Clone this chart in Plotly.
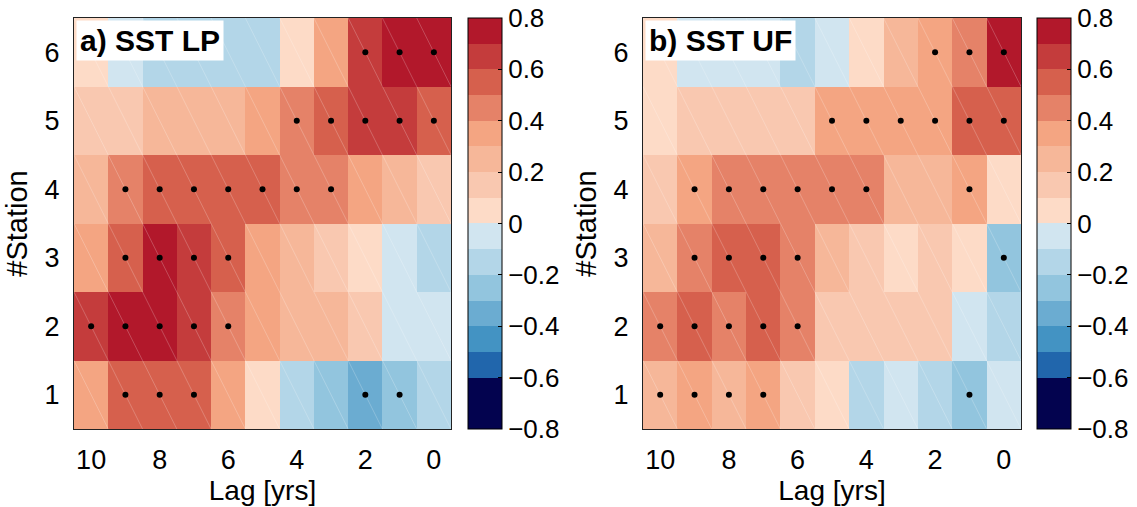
import plotly.graph_objects as go

lags = [10, 9, 8, 7, 6, 5, 4, 3, 2, 1, 0]
stations = [1, 2, 3, 4, 5, 6]

# Panel a) SST LP  (rows: station 1..6, columns: lag 10..0)
corr_lp = [
    [0.35, 0.55, 0.55, 0.55, 0.35, 0.05, -0.15, -0.25, -0.35, -0.25, -0.15],
    [0.65, 0.75, 0.75, 0.65, 0.45, 0.35, 0.25, 0.25, 0.15, -0.05, -0.05],
    [0.35, 0.55, 0.75, 0.65, 0.55, 0.35, 0.25, 0.15, 0.05, -0.05, -0.15],
    [0.25, 0.45, 0.55, 0.55, 0.55, 0.55, 0.45, 0.45, 0.35, 0.25, 0.15],
    [0.15, 0.15, 0.25, 0.25, 0.25, 0.35, 0.45, 0.55, 0.65, 0.65, 0.55],
    [0.05, -0.05, -0.15, -0.15, -0.15, -0.15, 0.05, 0.35, 0.65, 0.75, 0.75],
]
sig_lp = [
    [0, 1, 1, 1, 0, 0, 0, 0, 1, 1, 0],
    [1, 1, 1, 1, 1, 0, 0, 0, 0, 0, 0],
    [0, 1, 1, 1, 1, 0, 0, 0, 0, 0, 0],
    [0, 1, 1, 1, 1, 1, 1, 1, 0, 0, 0],
    [0, 0, 0, 0, 0, 0, 1, 1, 1, 1, 1],
    [0, 0, 0, 0, 0, 0, 0, 0, 1, 1, 1],
]

# Panel b) SST UF
corr_uf = [
    [0.25, 0.35, 0.25, 0.35, 0.15, 0.05, -0.15, -0.05, -0.15, -0.25, -0.05],
    [0.45, 0.55, 0.45, 0.55, 0.45, 0.15, 0.15, 0.15, 0.15, -0.05, -0.15],
    [0.25, 0.45, 0.55, 0.55, 0.45, 0.25, 0.15, 0.05, 0.15, 0.05, -0.25],
    [0.15, 0.35, 0.45, 0.45, 0.45, 0.45, 0.45, 0.25, 0.25, 0.35, 0.05],
    [0.05, 0.15, 0.15, 0.15, 0.15, 0.35, 0.35, 0.35, 0.35, 0.55, 0.55],
    [0.05, -0.05, -0.05, -0.05, -0.15, -0.05, 0.05, 0.25, 0.35, 0.45, 0.75],
]
sig_uf = [
    [1, 1, 1, 1, 0, 0, 0, 0, 0, 1, 0],
    [1, 1, 1, 1, 1, 0, 0, 0, 0, 0, 0],
    [0, 1, 1, 1, 1, 0, 0, 0, 0, 0, 1],
    [0, 1, 1, 1, 1, 1, 1, 0, 0, 1, 0],
    [0, 0, 0, 0, 0, 1, 1, 1, 1, 1, 1],
    [0, 0, 0, 0, 0, 0, 0, 0, 1, 1, 1],
]

panel_titles = ["a) SST LP", "b) SST UF"]
cbar_ticks = [-0.8, -0.6, -0.4, -0.2, 0, 0.2, 0.4, 0.6, 0.8]
x_ticks = [10, 8, 6, 4, 2, 0]

level_colors = [
    "#03034f", "#03034f", "#2166ac", "#4393c3", "#6bacd1", "#92c5de",
    "#b3d6e8", "#d1e5f0", "#fddbc7", "#f9c8b0", "#f6b799", "#f4a582",
    "#e58268", "#d6604d", "#c43c3c", "#b2182b",
]
n = len(level_colors)
colorscale = []
for i, c in enumerate(level_colors):
    colorscale.append([i / n, c])
    colorscale.append([(i + 1) / n, c])

W, H = 1137, 507
FONT = "Liberation Sans, Arial, Helvetica, sans-serif"

plot_x = [(74, 451), (643, 1021)]
plot_y = (18, 429)
cbar_x = [468, 1037]

fig = go.Figure()

datasets = [(corr_lp, sig_lp), (corr_uf, sig_uf)]
for k, (z, sig) in enumerate(datasets):
    xa = "x" if k == 0 else "x2"
    ya = "y" if k == 0 else "y2"
    fig.add_trace(go.Heatmap(
        z=z, x=lags, y=stations, zmin=-0.8, zmax=0.8,
        colorscale=colorscale, xaxis=xa, yaxis=ya, hoverinfo="skip",
        colorbar=dict(
            x=cbar_x[k] / W, xanchor="left", xpad=0, ypad=0,
            y=1 - (plot_y[0] + plot_y[1]) / 2 / H, yanchor="middle",
            len=(plot_y[1] - plot_y[0]) / H, lenmode="fraction",
            thickness=34, thicknessmode="pixels",
            outlinewidth=1, outlinecolor="#000000",
            tickvals=cbar_ticks, ticks="inside", ticklen=4,
            tickcolor="#000000", tickwidth=1,
            tickfont=dict(family=FONT, size=26, color="#000000"),
        ),
    ))
    # faint diagonal rendering lines inside each cell
    lx, ly = [], []
    for s in stations:
        for lg in lags:
            lx += [lg + 0.5, lg - 0.5, None]
            ly += [s + 0.5, s - 0.5, None]
    fig.add_trace(go.Scatter(
        x=lx, y=ly, mode="lines", xaxis=xa, yaxis=ya, hoverinfo="skip",
        line=dict(color="rgba(255,255,255,0.28)", width=0.8), showlegend=False,
    ))
    # significance dots
    dx, dy = [], []
    for i, s in enumerate(stations):
        for j, lg in enumerate(lags):
            if sig[i][j]:
                dx.append(lg)
                dy.append(s)
    fig.add_trace(go.Scatter(
        x=dx, y=dy, mode="markers", xaxis=xa, yaxis=ya, hoverinfo="skip",
        marker=dict(color="#000000", size=6), showlegend=False,
    ))

axis_common = dict(
    showgrid=False, zeroline=False, showline=True, mirror=True,
    linecolor="#222222", linewidth=1, ticks="",
    tickfont=dict(family=FONT, size=27, color="#000000"),
)

layout = dict(
    width=W, height=H, margin=dict(l=0, r=0, t=0, b=0),
    paper_bgcolor="white", plot_bgcolor="white", showlegend=False,
    font=dict(family=FONT, color="#000000"),
)
for k in range(2):
    xs = "xaxis" if k == 0 else "xaxis2"
    ys = "yaxis" if k == 0 else "yaxis2"
    layout[xs] = dict(
        axis_common, domain=[plot_x[k][0] / W, plot_x[k][1] / W],
        range=[10.5, -0.5], tickvals=x_ticks, ticklabelstandoff=7,
        anchor="y" if k == 0 else "y2",
        title=dict(text="Lag [yrs]", font=dict(family=FONT, size=28), standoff=2),
    )
    layout[ys] = dict(
        axis_common, domain=[1 - plot_y[1] / H, 1 - plot_y[0] / H],
        range=[0.5, 6.5], tickvals=stations, ticklabelstandoff=8,
        anchor="x" if k == 0 else "x2",
        title=dict(text="#Station", font=dict(family=FONT, size=29), standoff=8),
    )
fig.update_layout(**layout)

for k in range(2):
    fig.add_annotation(
        xref="paper", yref="paper",
        x=(plot_x[k][0] + 2) / W, y=1 - (plot_y[0] + 2) / H,
        xanchor="left", yanchor="top",
        text="<b>%s</b>" % panel_titles[k], showarrow=False,
        bgcolor="white", borderpad=3,
        font=dict(family=FONT, size=30, color="#000000"),
    )

fig.write_html("out.html")
